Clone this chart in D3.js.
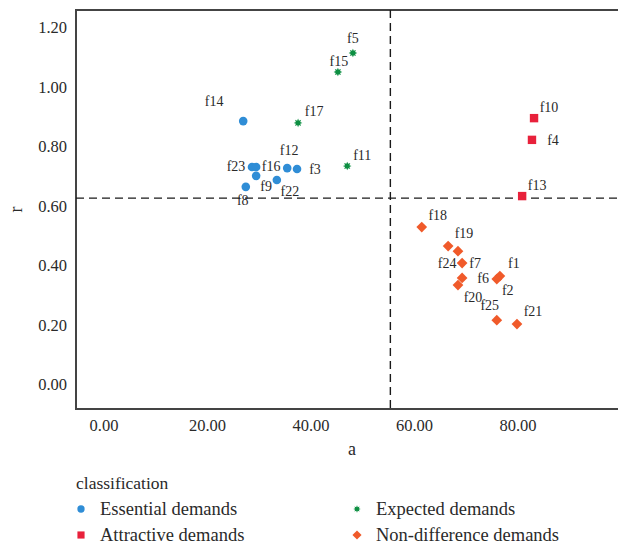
<!DOCTYPE html>
<html>
<head>
<meta charset="utf-8">
<script src="https://cdn.jsdelivr.net/npm/d3@7"></script>
<style>
  body { margin: 0; background: #fff; }
  text { font-family: "Liberation Serif", "DejaVu Serif", serif; fill: #2a2a2a; }
</style>
</head>
<body>
<div id="chart"></div>
<script>
// values
const essentialNames = ["f14", "f23", "f16", "f9", "f8", "f22", "f12", "f3"];
const essentialA     = [26.9, 28.6, 29.4, 29.4, 27.4, 33.4, 35.4, 37.3];
const essentialR     = [0.887, 0.733, 0.733, 0.703, 0.666, 0.689, 0.729, 0.726];

const expectedNames = ["f5", "f15", "f17", "f11"];
const expectedA     = [48.1, 45.2, 37.5, 47.0];
const expectedR     = [1.116, 1.052, 0.881, 0.736];

const attractiveNames = ["f10", "f4", "f13"];
const attractiveA     = [83.1, 82.7, 80.8];
const attractiveR     = [0.897, 0.824, 0.635];

const nodiffNames = ["f18", "f24", "f19", "f7", "f6", "f20", "f1", "f2", "f25", "f21"];
const nodiffA     = [61.4, 66.5, 68.4, 69.2, 69.2, 68.4, 76.5, 75.9, 75.9, 79.8];
const nodiffR     = [0.531, 0.467, 0.450, 0.410, 0.360, 0.336, 0.366, 0.356, 0.218, 0.205];

const xTicks = [0, 20, 40, 60, 80];
const yTicks = [0, 0.2, 0.4, 0.6, 0.8, 1.0, 1.2];

const classes = [
  {name: "Essential demands",      key: "essential",  names: essentialNames,  a: essentialA,  r: essentialR},
  {name: "Expected demands",       key: "expected",   names: expectedNames,   a: expectedA,   r: expectedR},
  {name: "Attractive demands",     key: "attractive", names: attractiveNames, a: attractiveA, r: attractiveR},
  {name: "Non-difference demands", key: "nodiff",     names: nodiffNames,     a: nodiffA,     r: nodiffR}
];

// label nudges (px), like a repel layout
const nudge = {
  f14: [-29, -20], f23: [-16, 0], f16: [15, 0], f9: [10, 11], f8: [-3, 14], f22: [13, 11], f12: [2, -18], f3: [18, 0],
  f5: [0, -14], f15: [1, -11], f17: [16, -11], f11: [15, -11],
  f10: [15, -11], f4: [21, 1], f13: [15, -11],
  f18: [16, -12], f24: [-1, 17], f19: [6, -18], f7: [13, 0], f6: [21, 1], f20: [15, 12],
  f1: [14, -13], f2: [11, 11], f25: [-7, -15], f21: [16, -13]
};

const colors = {essential: "#2f8dd6", expected: "#0d8f42", attractive: "#e8213b", nodiff: "#f05a2a"};

const width = 618, height = 546;
const frame = {left: 76, top: 10, bottom: 409, right: 640};

const x = d3.scaleLinear().domain([0, 80]).range([104, 518]);
const y = d3.scaleLinear().domain([0, 1.2]).range([385, 28]);

const svg = d3.select("#chart").append("svg")
  .attr("width", width)
  .attr("height", height);

// 8-point burst for expected demands
function burst(size) {
  const pts = d3.range(16).map(i => {
    const ang = i * Math.PI / 8;
    const rad = i % 2 === 0 ? size : size * 0.55;
    return [Math.sin(ang) * rad, -Math.cos(ang) * rad];
  });
  return "M" + pts.join("L") + "Z";
}

function marker(g, key, s) {
  if (key === "essential") {
    g.append("circle").attr("r", 4.3 * s).attr("fill", colors[key]);
  } else if (key === "expected") {
    g.append("path").attr("d", burst(4.3 * s)).attr("fill", colors[key]);
  } else if (key === "attractive") {
    g.append("rect").attr("x", -4.2 * s).attr("y", -4.2 * s).attr("width", 8.4 * s).attr("height", 8.4 * s).attr("fill", colors[key]);
  } else {
    g.append("rect").attr("x", -3.8 * s).attr("y", -3.8 * s).attr("width", 7.6 * s).attr("height", 7.6 * s)
      .attr("transform", "rotate(45)").attr("fill", colors[key]);
  }
}

// frame
svg.append("path")
  .attr("d", `M${frame.right},${frame.top}H${frame.left}V${frame.bottom}H${frame.right}`)
  .attr("fill", "none")
  .attr("stroke", "#444")
  .attr("stroke-width", 2);

// tick labels
svg.append("g").selectAll("text")
  .data(xTicks)
  .join("text")
  .attr("x", d => x(d))
  .attr("y", frame.bottom + 22)
  .attr("text-anchor", "middle")
  .attr("font-size", 16.5)
  .text(d => d3.format(".2f")(d));

svg.append("g").selectAll("text")
  .data(yTicks)
  .join("text")
  .attr("x", 67)
  .attr("y", d => y(d) + 5)
  .attr("text-anchor", "end")
  .attr("font-size", 16.5)
  .text(d => d3.format(".2f")(d));

// axis titles
svg.append("text")
  .attr("x", 352).attr("y", 455)
  .attr("text-anchor", "middle")
  .attr("font-size", 18)
  .text("a");

svg.append("text")
  .attr("transform", `translate(22,${(frame.top + frame.bottom) / 2}) rotate(-90)`)
  .attr("text-anchor", "middle")
  .attr("font-size", 18)
  .text("r");

// mean lines
const allA = classes.flatMap(c => c.a);
const allR = classes.flatMap(c => c.r);
const meanA = d3.mean(allA), meanR = d3.mean(allR);

svg.append("line")
  .attr("x1", x(meanA)).attr("x2", x(meanA))
  .attr("y1", frame.top).attr("y2", frame.bottom)
  .attr("stroke", "#1a1a1a").attr("stroke-width", 1.4)
  .attr("stroke-dasharray", "8,5");

svg.append("line")
  .attr("x1", frame.left).attr("x2", frame.right)
  .attr("y1", y(meanR)).attr("y2", y(meanR))
  .attr("stroke", "#1a1a1a").attr("stroke-width", 1.4)
  .attr("stroke-dasharray", "8,5");

// points + labels
const pts = classes.flatMap(c => c.names.map((n, i) => ({name: n, key: c.key, a: c.a[i], r: c.r[i]})));

const pg = svg.append("g").selectAll("g")
  .data(pts)
  .join("g")
  .attr("transform", d => `translate(${x(d.a)},${y(d.r)})`);
pg.each(function (d) { marker(d3.select(this), d.key, 1); });

svg.append("g").selectAll("text")
  .data(pts)
  .join("text")
  .attr("x", d => x(d.a) + nudge[d.name][0])
  .attr("y", d => y(d.r) + nudge[d.name][1] + 4.5)
  .attr("text-anchor", "middle")
  .attr("font-size", 14)
  .text(d => d.name);

// legend
const legend = svg.append("g");
legend.append("text")
  .attr("x", 76).attr("y", 489)
  .attr("font-size", 17.5)
  .text("classification");

const lg = legend.selectAll("g.item")
  .data(classes)
  .join("g")
  .attr("class", "item")
  .attr("transform", (d, i) => `translate(${i % 2 === 0 ? 81 : 357},${i < 2 ? 509 : 535})`);
lg.each(function (d) { marker(d3.select(this), d.key, 0.85); });
lg.append("text")
  .attr("x", 19).attr("y", 6)
  .attr("font-size", 18.5)
  .text(d => d.name);
</script>
</body>
</html>
